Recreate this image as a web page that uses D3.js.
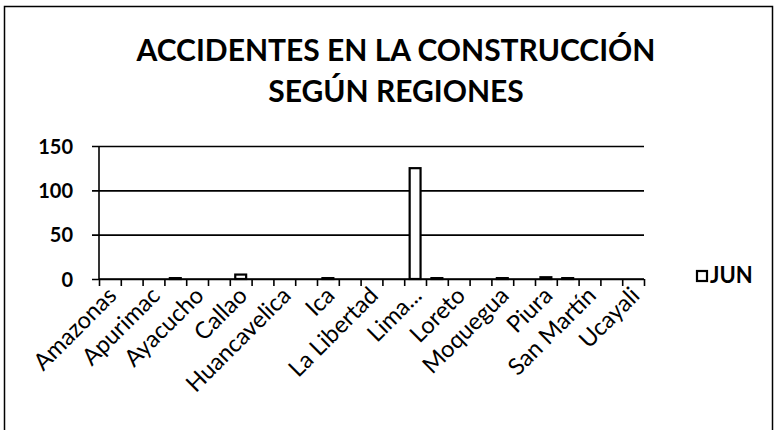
<!DOCTYPE html>
<html>
<head>
<meta charset="utf-8">
<script src="https://cdn.jsdelivr.net/npm/d3@7"></script>
<style>
  html, body { margin: 0; padding: 0; background: #fff; }
  svg text { font-family: Lato, "Open Sans", sans-serif; fill: #000; }
</style>
</head>
<body>
<svg id="chart" width="777" height="430"></svg>
<script>
// Regiones del Perú (orden alfabético)
const regiones = [
  "Amazonas", "Áncash", "Apurimac", "Arequipa", "Ayacucho", "Cajamarca",
  "Callao", "Cusco", "Huancavelica", "Huánuco", "Ica", "Junín",
  "La Libertad", "Lambayeque", "Lima Metropolitana", "Lima Provincias",
  "Loreto", "Madre de Dios", "Moquegua", "Pasco", "Piura", "Puno",
  "San Martín", "Tacna", "Ucayali"
];
// Accidentes registrados en junio
const accidentesJun = [
  0, 0, 0, 1, 0, 0,
  5, 0, 0, 0, 1, 0,
  0, 0, 125, 1,
  0, 0, 1, 0, 2, 1,
  0, 0, 0
];
const yTicks = [0, 50, 100, 150];
const serieNombre = "JUN";
const tituloLineas = ["ACCIDENTES EN LA CONSTRUCCIÓN", "SEGÚN REGIONES"];

const svg = d3.select("#chart");
const W = 777, H = 430;
const plot = { left: 99, right: 644, top: 146, bottom: 279 };

svg.append("rect").attr("width", W).attr("height", H).attr("fill", "#fff");

// marco del gráfico
svg.append("rect")
  .attr("x", 4.5).attr("y", 6.5)
  .attr("width", 768).attr("height", 450)
  .attr("fill", "none").attr("stroke", "#000").attr("stroke-width", 1.5);

// título
const titulo = svg.append("g");
titulo.selectAll("text").data(tituloLineas).join("text")
  .attr("x", 396)
  .attr("y", (d, i) => 61 + i * 41)
  .attr("text-anchor", "middle")
  .attr("font-weight", 700)
  .attr("font-size", 30)
  .text(d => d);

const x = d3.scaleBand()
  .domain(regiones)
  .range([plot.left, plot.right])
  .paddingInner(0.5)
  .paddingOuter(0.25);

const y = d3.scaleLinear()
  .domain([0, 150])
  .range([plot.bottom, plot.top]);

// líneas de división horizontales y eje Y
const yAxis = svg.append("g")
  .attr("transform", `translate(${plot.left},0)`)
  .call(d3.axisLeft(y).tickValues(yTicks).tickSize(7).tickPadding(19));
yAxis.select(".domain").remove();
yAxis.selectAll(".tick line")
  .attr("x1", -7).attr("x2", plot.right - plot.left)
  .attr("stroke", "#000").attr("stroke-width", 1.6);
yAxis.selectAll(".tick text")
  .attr("font-size", 20).attr("font-weight", 700)
  .attr("dy", "0.36em");
yAxis.append("line")
  .attr("x1", 0).attr("x2", 0)
  .attr("y1", y(150)).attr("y2", y(0))
  .attr("stroke", "#000").attr("stroke-width", 1.6);

// barras
svg.append("g").selectAll("rect")
  .data(regiones.map((r, i) => ({ r, v: accidentesJun[i] })))
  .join("rect")
  .attr("x", d => x(d.r))
  .attr("width", x.bandwidth())
  .attr("y", d => y(d.v))
  .attr("height", d => y(0) - y(d.v))
  .attr("fill", "#fff")
  .attr("stroke", "#000")
  .attr("stroke-width", 2.2);

// eje X: marcas en los límites de categoría
const xBounds = d3.scaleLinear().domain([0, regiones.length]).range([plot.left, plot.right]);
const xTicksAxis = svg.append("g")
  .attr("transform", `translate(0,${plot.bottom})`)
  .call(d3.axisBottom(xBounds).tickValues(d3.range(regiones.length + 1)).tickSize(7).tickFormat(""));
xTicksAxis.select(".domain").remove();
xTicksAxis.selectAll(".tick line").attr("stroke", "#000").attr("stroke-width", 1.6);
xTicksAxis.append("line")
  .attr("x1", plot.left).attr("x2", plot.right)
  .attr("stroke", "#000").attr("stroke-width", 1.6);

// etiquetas de regiones (una de cada dos)
const etiquetas = svg.append("g")
  .attr("transform", `translate(0,${plot.bottom})`)
  .call(d3.axisBottom(x).tickSize(0)
    .tickValues(regiones.filter((d, i) => i % 2 === 0))
    .tickFormat(d => d.length > 14 ? d.slice(0, 4) + "..." : d));
etiquetas.select(".domain").remove();
etiquetas.selectAll(".tick text")
  .attr("font-size", 23.5)
  .attr("text-anchor", "end")
  .attr("dy", 0)
  .attr("y", 0)
  .attr("transform", "translate(8,18) rotate(-45)");

// leyenda
const leyenda = svg.append("g").attr("transform", "translate(697,271)");
leyenda.append("rect")
  .attr("width", 10).attr("height", 10)
  .attr("fill", "#fff").attr("stroke", "#000").attr("stroke-width", 2.2);
leyenda.append("text")
  .attr("x", 13).attr("y", 12)
  .attr("font-size", 22).attr("font-weight", 700)
  .text(serieNombre);
</script>
</body>
</html>
